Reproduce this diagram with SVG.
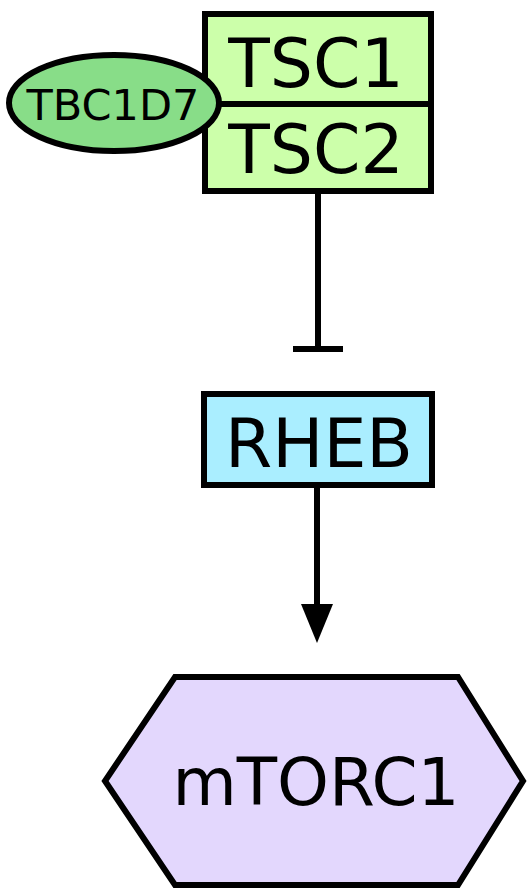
<svg xmlns="http://www.w3.org/2000/svg" width="527" height="889" viewBox="0 0 527 889">
<style>
.n{stroke:#000;stroke-width:6}
.t{font-family:"DejaVu Sans",Verdana,sans-serif;fill:#000;text-anchor:middle}
.e{stroke:#000;stroke-width:6;fill:none}
</style>
<rect width="527" height="889" fill="#fff"/>
<g id="connectors">
<line class="e" x1="318" y1="193" x2="318" y2="349"/>
<line class="e" x1="293" y1="349" x2="343" y2="349"/>
<line class="e" x1="317" y1="486" x2="317" y2="610"/>
<path d="M301,604 L333,604 L317,643 Z" fill="#000"/>
</g>
<g id="TSC1">
<rect class="n" x="205" y="14" width="226" height="90" fill="#ccffaa"/>
<text class="t" x="316" y="87" font-size="68">TSC1</text>
</g>
<g id="TSC2">
<rect class="n" x="205" y="104" width="226" height="87" fill="#ccffaa"/>
<text class="t" x="316" y="173" font-size="68">TSC2</text>
</g>
<g id="TBC1D7">
<ellipse class="n" cx="114" cy="103" rx="105" ry="48" fill="#88dd88"/>
<text class="t" x="113" y="120" font-size="43">TBC1D7</text>
</g>
<g id="RHEB">
<rect class="n" x="204" y="394" width="228" height="91" fill="#aaeeff"/>
<text class="t" x="319" y="467" font-size="68">RHEB</text>
</g>
<g id="mTORC1">
<polygon class="n" points="175,677 458,677 523,781 458,885 175,885 105,781" fill="#e3d7fd"/>
<text class="t" x="316" y="805" font-size="66">mTORC1</text>
</g>
</svg>
